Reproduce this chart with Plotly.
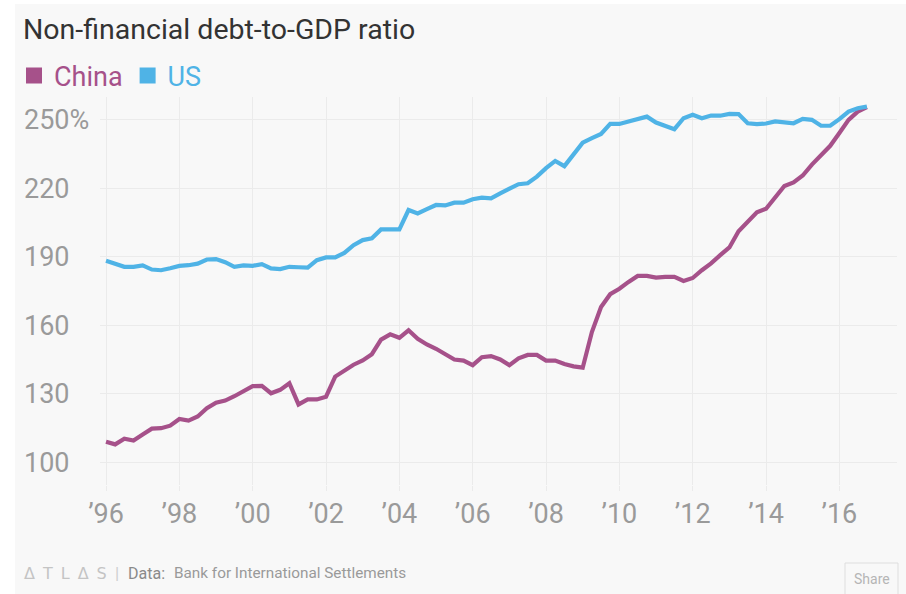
import numpy as np
import plotly.graph_objects as go

# Quarterly observations, 1996 Q1 – 2016 Q4 (decimal years)
quarters = np.arange(1996, 2017, 0.25)

# Non-financial sector debt, % of GDP
china = [
    109.0, 107.8, 110.3, 109.5,
    112.1, 114.7, 114.9, 116.0,
    118.9, 118.2, 120.0, 123.6,
    126.1, 127.0, 128.9, 131.1,
    133.3, 133.4, 130.2, 131.7,
    134.6, 125.3, 127.5, 127.5,
    128.7, 137.5, 140.3, 142.7,
    144.6, 147.3, 153.7, 156.0,
    154.5, 157.8, 154.1, 151.6,
    149.7, 147.2, 145.0, 144.5,
    142.5, 146.0, 146.5, 145.0,
    142.5, 145.5, 147.0, 147.0,
    144.5, 144.5, 143.0, 142.0,
    141.4, 157.0, 168.0, 173.6,
    176.0, 179.0, 181.6, 181.6,
    180.9, 181.2, 181.2, 179.4,
    180.7, 184.1, 187.1, 190.7,
    194.1, 201.2, 205.5, 209.5,
    211.0, 216.2, 221.0, 222.6,
    225.6, 230.4, 234.2, 238.6,
    244.2, 250.0, 253.6, 255.6,
]
us = [
    188.2, 186.8, 185.6, 185.6,
    186.2, 184.4, 184.1, 185.0,
    186.0, 186.3, 187.0, 188.8,
    189.0, 187.6, 185.6, 186.2,
    186.0, 186.8, 184.9, 184.6,
    185.6, 185.4, 185.2, 188.5,
    189.7, 189.7, 191.7, 195.1,
    197.3, 198.1, 202.0, 202.0,
    202.0, 210.5, 209.0, 210.9,
    212.7, 212.5, 213.7, 213.7,
    215.2, 215.9, 215.6, 217.8,
    220.0, 221.8, 222.2, 225.1,
    228.8, 232.0, 229.7, 234.6,
    240.0, 242.0, 243.8, 248.2,
    248.2, 249.3, 250.5, 251.4,
    248.8, 247.4, 245.9, 250.7,
    252.2, 250.7, 251.9, 251.8,
    252.6, 252.5, 248.5, 248.1,
    248.4, 249.3, 248.8, 248.5,
    250.4, 250.0, 247.4, 247.4,
    250.3, 253.6, 255.1, 255.8,
]

x_tickvals = [1996, 1998, 2000, 2002, 2004, 2006, 2008, 2010, 2012, 2014, 2016]
x_ticktext = ["’96", "’98", "’00", "’02", "’04", "’06", "’08", "’10", "’12", "’14", "’16"]
y_tickvals = [100, 130, 160, 190, 220, 250]
y_ticktext = ["100", "130", "160", "190", "220", "250%"]

CHINA_COLOR = "#a6518a"
US_COLOR = "#4fb3e6"
BG = "#f8f8f8"
GRID = "#ebebeb"
TICK_FONT = dict(family="Roboto, Liberation Sans, sans-serif", size=27, color="#9a9a9a")

W, H = 906, 594
ML, MR, MT, MB = 20, 9, 97, 109
PW, PH = W - ML - MR, H - MT - MB


def px(xp):
    return (xp - ML) / PW


def py(yp):
    return (H - MB - yp) / PH


fig = go.Figure()

fig.add_trace(go.Scatter(
    x=quarters, y=china, mode="lines", name="China", showlegend=False,
    line=dict(color=CHINA_COLOR, width=4.2), hoverinfo="skip",
))
fig.add_trace(go.Scatter(
    x=quarters, y=us, mode="lines", name="US", showlegend=False,
    line=dict(color=US_COLOR, width=4.2), hoverinfo="skip",
))

# Square legend keys with coloured labels
for name, color in [("China", CHINA_COLOR), ("US", US_COLOR)]:
    fig.add_trace(go.Scatter(
        x=[None], y=[None], mode="markers",
        name=f"<span style='color:{color}'>{name}</span>",
        marker=dict(symbol="square", size=16, color=color),
        showlegend=True,
    ))

shapes = [
    # white strips framing the card
    dict(type="rect", xref="paper", yref="paper", x0=px(-5), x1=px(15), y0=py(600), y1=py(-5),
         fillcolor="white", line=dict(width=0), layer="below"),
    dict(type="rect", xref="paper", yref="paper", x0=px(-5), x1=px(910), y0=py(4), y1=py(-5),
         fillcolor="white", line=dict(width=0), layer="below"),
    # Share button outline
    dict(type="rect", xref="paper", yref="paper", x0=px(845), x1=px(898), y0=py(598), y1=py(563),
         fillcolor=BG, line=dict(width=1, color="#dedede"), layer="above"),
]

annotations = [
    dict(text="Δ\u2002T\u2002L\u2002Δ\u2002S", x=px(22), y=py(573), xref="paper", yref="paper",
         xanchor="left", yanchor="middle", showarrow=False,
         font=dict(family="DejaVu Sans, sans-serif", size=16, color="#c4c4c4")),
    dict(text="|", x=px(113), y=py(573), xref="paper", yref="paper", xanchor="left",
         yanchor="middle", showarrow=False,
         font=dict(family="Roboto, sans-serif", size=17, color="#cfcfcf")),
    dict(text="Data:", x=px(126), y=py(573), xref="paper", yref="paper", xanchor="left",
         yanchor="middle", showarrow=False,
         font=dict(family="Roboto, sans-serif", size=16, color="#8a8a8a")),
    dict(text="Bank for International Settlements", x=px(172), y=py(573), xref="paper",
         yref="paper", xanchor="left", yanchor="middle", showarrow=False,
         font=dict(family="Roboto, sans-serif", size=15.3, color="#9a9a9a")),
    dict(text="Share", x=px(872), y=py(579), xref="paper", yref="paper", xanchor="center",
         yanchor="middle", showarrow=False,
         font=dict(family="Roboto, sans-serif", size=14, color="#b5b5b5")),
]

fig.update_layout(
    width=W, height=H,
    margin=dict(l=ML, r=MR, t=MT, b=MB, pad=0),
    paper_bgcolor=BG, plot_bgcolor=BG,
    title=dict(
        text="Non-financial debt-to-GDP ratio",
        xref="container", yref="container", x=23 / W, y=1 - 29 / H,
        xanchor="left", yanchor="middle",
        font=dict(family="Roboto, sans-serif", size=28.5, color="#333333"),
    ),
    legend=dict(
        orientation="h", x=px(14), y=py(76), xanchor="left", yanchor="middle",
        font=dict(family="Roboto, sans-serif", size=27), bgcolor="rgba(0,0,0,0)",
        itemsizing="trace", itemclick=False, itemdoubleclick=False,
    ),
    xaxis=dict(
        domain=[px(100), 1], range=[1995.836, 2017.571],
        tickmode="array", tickvals=x_tickvals, ticktext=x_ticktext,
        showgrid=True, gridcolor=GRID, gridwidth=1,
        ticks="outside", ticklen=5, tickcolor=GRID, tickwidth=1,
        showline=False, zeroline=False, tickfont=TICK_FONT,
    ),
    yaxis=dict(
        anchor="free", position=0, range=[90, 260],
        tickmode="array", tickvals=y_tickvals, ticktext=y_ticktext,
        ticklabelposition="inside", showgrid=True, gridcolor=GRID, gridwidth=1,
        ticks="", showline=False, zeroline=False, tickfont=TICK_FONT,
    ),
    shapes=shapes,
    annotations=annotations,
    showlegend=True,
)

fig.write_html("out.html")
